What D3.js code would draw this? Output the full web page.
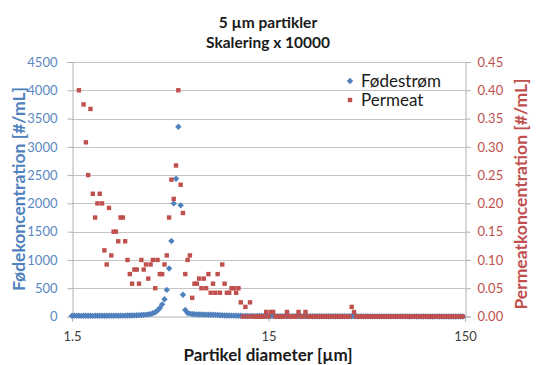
<!DOCTYPE html>
<html>
<head>
<meta charset="utf-8">
<script src="https://cdn.jsdelivr.net/npm/d3@7"></script>
<style>
  html, body { margin: 0; padding: 0; background: #ffffff; }
  svg { display: block; font-family: Lato, "Open Sans", sans-serif; }
</style>
</head>
<body>
<svg id="chart" width="536" height="365"></svg>
<script>
// Particle counter channels (diameter, µm)
const diameters = [
  1.500, 1.541, 1.584, 1.627, 1.672, 1.718, 1.765, 1.813, 1.863, 1.914,
  1.967, 2.021, 2.076, 2.133, 2.192, 2.252, 2.314, 2.377, 2.443, 2.510,
  2.579, 2.649, 2.722, 2.797, 2.874, 2.953, 3.034, 3.117, 3.203, 3.290,
  3.381, 3.474, 3.569, 3.667, 3.768, 3.871, 3.978, 4.087, 4.199, 4.314,
  4.433, 4.554, 4.680, 4.808, 4.940, 5.076, 5.215, 5.358, 5.505, 5.657,
  5.812, 5.972, 6.136, 6.304, 6.477, 6.655, 6.838, 7.025, 7.218, 7.417,
  7.620, 7.829, 8.044, 8.265, 8.492, 8.725, 8.965, 9.211, 9.464, 9.724,
  9.991, 10.27, 10.55, 10.84, 11.13, 11.44, 11.75, 12.08, 12.41, 12.75,
  13.10, 13.46, 13.83, 14.21, 14.60, 15.00, 15.41, 15.84, 16.27, 16.72,
  17.18, 17.65, 18.13, 18.63, 19.14, 19.67, 20.21, 20.76, 21.33, 21.92,
  22.52, 23.14, 23.77, 24.43, 25.10, 25.79, 26.49, 27.22, 27.97, 28.74,
  29.53, 30.34, 31.17, 32.03, 32.90, 33.81, 34.74, 35.69, 36.67, 37.68,
  38.71, 39.78, 40.87, 41.99, 43.14, 44.33, 45.54, 46.80, 48.08, 49.40,
  50.76, 52.15, 53.58, 55.05, 56.57, 58.12, 59.72, 61.36, 63.04, 64.77,
  66.55, 68.38, 70.25, 72.18, 74.17, 76.20, 78.29, 80.44, 82.65, 84.92,
  87.25, 89.65, 92.11, 94.64, 97.24, 99.91, 102.7, 105.5, 108.4, 111.3,
  114.4, 117.5, 120.8, 124.1, 127.5, 131.0, 134.6, 138.3, 142.1, 146.0
];

// Fødestrøm, #/mL (left axis)
const feedValues = [
  14, 12, 15, 13, 11, 12, 14, 13, 12, 11,
  12, 13, 12, 14, 13, 12, 13, 15, 14, 16,
  14, 15, 15, 16, 17, 18, 19, 20, 22, 24,
  26, 29, 33, 38, 45, 58, 76, 105, 150, 215,
  305, 470, 850, 1335, 2000, 2435, 3355, 1965, 385, 115,
  62, 50, 44, 40, 38, 36, 35, 34, 33, 32,
  31, 30, 28, 26, 23, 21, 19, 18, 17, 16,
  15, 14, 13, 12, 11, 10, 10, 9, 9, 9,
  8, 8, 9, 8, 8, 7, 8, 7, 7, 7,
  7, 6, 7, 6, 6, 6, 7, 6, 6, 5,
  6, 5, 5, 6, 5, 5, 5, 4, 5, 5,
  5, 4, 4, 5, 4, 4, 4, 5, 4, 4,
  6, 5, 4, 4, 3, 4, 3, 3, 4, 3,
  3, 3, 3, 2, 3, 3, 2, 3, 2, 2,
  2, 3, 2, 2, 2, 2, 1, 2, 2, 1,
  2, 1, 1, 2, 1, 1, 1, 1, 2, 1,
  1, 1, 1, 1, 0, 1, 1, 0, 1, 0
];

// Permeat, #/mL (right axis); null = no reading
const permeateValues = [
  null, null, null, 0.400, null, 0.375, 0.308, 0.250, 0.367, 0.217,
  0.175, 0.200, 0.217, 0.200, 0.117, 0.092, 0.192, 0.108, 0.150, 0.150,
  0.133, 0.175, 0.175, 0.133, 0.100, 0.075, 0.058, 0.083, 0.083, 0.058,
  0.100, 0.083, 0.092, 0.067, 0.092, 0.100, 0.050, 0.100, 0.075, 0.075,
  0.092, 0.108, 0.175, 0.242, 0.208, 0.267, 0.400, 0.233, 0.183, 0.075,
  0.100, 0.108, 0.033, 0.058, 0.058, 0.067, 0.050, 0.067, 0.050, 0.075,
  0.042, 0.058, 0.042, 0.075, 0.042, 0.092, 0.058, 0.042, 0.042, 0.050,
  0.050, 0.042, 0.050, 0.025, 0, 0.017, 0, 0.025, 0, 0,
  0, 0, 0, 0, 0.008, 0, 0.008, 0.008, 0, 0,
  0, 0, 0, 0.008, 0, 0, 0, 0, 0.008, 0,
  0, 0.008, 0, 0, 0, 0, 0, 0, 0, 0,
  0, 0, 0, 0, 0, 0, 0, 0, 0, 0,
  0, 0.017, 0.008, 0, 0, 0, 0, 0, 0, 0,
  0, 0, 0, 0, 0, 0, 0, 0, 0, 0,
  0, 0, 0, 0, 0, 0, 0, 0, 0, 0,
  0, 0, 0, 0, 0, 0, 0, 0, 0, 0,
  0, 0, 0, 0, 0, 0, 0, 0, 0, 0
];

const seriesNames = ["Fødestrøm", "Permeat"];
const xTicks = [1.5, 15, 150];
const xTickLabels = ["1.5", "15", "150"];
const leftTicks = [0, 500, 1000, 1500, 2000, 2500, 3000, 3500, 4000, 4500];
const rightTicks = [0, 0.05, 0.10, 0.15, 0.20, 0.25, 0.30, 0.35, 0.40, 0.45];
const titleLines = ["5 µm partikler", "Skalering x 10000"];

const blue = "#4F81BD", red = "#C0504D", grid = "#C4C4C4", axisGray = "#B0B0B0";
const plotLeft = 72, plotRight = 465, plotTop = 62, plotBottom = 316.5;

const svg = d3.select("#chart");
const x = d3.scaleLog().domain([1.5, 150]).range([plotLeft, plotRight]);
const yL = d3.scaleLinear().domain([0, 4500]).range([plotBottom, plotTop]);
const yR = d3.scaleLinear().domain([0, 0.45]).range([plotBottom, plotTop]);

// horizontal gridlines
svg.append("g").selectAll("line").data(leftTicks.filter(d => d > 0)).join("line")
  .attr("x1", plotLeft).attr("x2", plotRight)
  .attr("y1", d => Math.round(yL(d)) + 0.5).attr("y2", d => Math.round(yL(d)) + 0.5)
  .attr("stroke", grid).attr("stroke-width", 1);

// left axis
const gL = svg.append("g").attr("transform", `translate(${plotLeft + 0.5},0)`)
  .call(d3.axisLeft(yL).tickValues(leftTicks).tickFormat(d3.format("d")).tickSize(5).tickPadding(10));
gL.selectAll("path,line").attr("stroke", axisGray);
gL.selectAll("text").attr("fill", "#5A88C2").style("font-size", "13px").style("font-family", "Lato, sans-serif");

// right axis
const gR = svg.append("g").attr("transform", `translate(${plotRight + 0.5},0)`)
  .call(d3.axisRight(yR).tickValues(rightTicks).tickFormat(d3.format(".2f")).tickSize(5).tickPadding(7));
gR.selectAll("path,line").attr("stroke", axisGray);
gR.selectAll("text").attr("fill", red).style("font-size", "13px").style("font-family", "Lato, sans-serif");

// bottom axis
const gB = svg.append("g").attr("transform", `translate(0,${plotBottom})`)
  .call(d3.axisBottom(x).tickValues(xTicks).tickFormat((d, i) => xTickLabels[i]).tickSize(5).tickPadding(10));
gB.selectAll("path,line").attr("stroke", axisGray);
gB.selectAll("text").attr("fill", "#404040").style("font-size", "13px").style("font-family", "Lato, sans-serif");

// Fødestrøm markers (diamonds)
const diamond = r => `M0,${-r}L${r},0L0,${r}L${-r},0Z`;
const feed = diameters.map((d, i) => ({ d, v: feedValues[i] }));
svg.append("g").selectAll("path").data(feed).join("path")
  .attr("d", diamond(3.2))
  .attr("transform", p => `translate(${x(p.d)},${yL(p.v)})`)
  .attr("fill", blue);

// Permeat markers (squares), drawn on top
const perm = diameters.map((d, i) => ({ d, v: permeateValues[i] })).filter(p => p.v !== null);
svg.append("g").selectAll("rect").data(perm).join("rect")
  .attr("x", p => x(p.d) - 2.2).attr("y", p => yR(p.v) - 2.2)
  .attr("width", 4.4).attr("height", 4.4)
  .attr("fill", red);

// title
svg.append("g").selectAll("text").data(titleLines).join("text")
  .attr("x", 268).attr("y", (d, i) => 28 + i * 20)
  .attr("text-anchor", "middle")
  .style("font-size", "15.5px").style("font-weight", "bold").attr("fill", "#1a1a1a")
  .text(d => d);

// axis titles
svg.append("text")
  .attr("transform", "translate(25,189) rotate(-90)")
  .attr("text-anchor", "middle")
  .style("font-size", "17.5px").style("font-weight", "bold").attr("fill", blue)
  .text("Fødekoncentration [#/mL]");
svg.append("text")
  .attr("transform", "translate(527,194) rotate(-90)")
  .attr("text-anchor", "middle")
  .style("font-size", "17.5px").style("font-weight", "bold").attr("fill", red)
  .text("Permeatkoncentration [#/mL]");
svg.append("text")
  .attr("x", 268).attr("y", 361)
  .attr("text-anchor", "middle")
  .style("font-size", "17px").style("font-weight", "bold").attr("fill", "#1a1a1a")
  .text("Partikel diameter [µm]");

// legend
const lg = svg.append("g");
lg.append("path").attr("d", diamond(3.2)).attr("transform", "translate(350,81)").attr("fill", blue);
lg.append("rect").attr("x", 347.8).attr("y", 97.8).attr("width", 4.4).attr("height", 4.4).attr("fill", red);
lg.selectAll("text").data(seriesNames).join("text")
  .attr("x", 361).attr("y", (d, i) => 87 + i * 19)
  .style("font-size", "17px").attr("fill", "#1a1a1a")
  .text(d => d);
</script>
</body>
</html>
